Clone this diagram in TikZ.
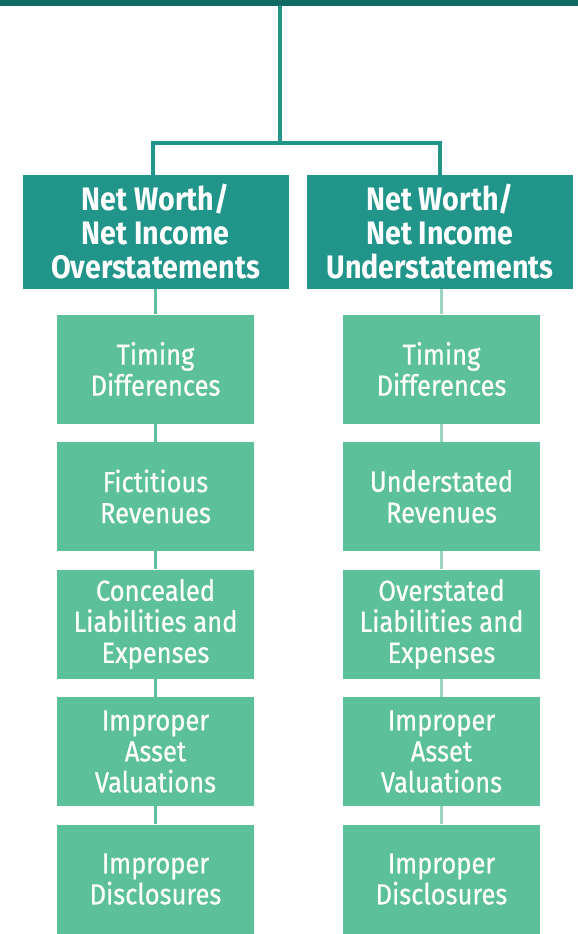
\documentclass[tikz,border=0pt]{standalone}
\usepackage{fontspec}
\setmainfont{Fira Sans}[FakeStretch=0.88]
\newfontfamily\itemfont{Fira Sans}[FakeStretch=0.88,FakeBold=0.6]
\usetikzlibrary{positioning}
\definecolor{barc}{HTML}{0F6B63}
\definecolor{headc}{HTML}{21958A}
\definecolor{itemc}{HTML}{5CC09A}
\definecolor{linkc}{HTML}{9FD5BE}

\begin{document}
\begin{tikzpicture}[x=1pt,y=-1pt,
    headbox/.style={fill=headc,text=white,minimum width=266pt,minimum height=114pt,
      inner sep=0pt,align=center,font=\fontsize{32.5}{34}\selectfont\bfseries},
    itembox/.style={fill=itemc,text=white,minimum width=197pt,minimum height=109pt,
      inner sep=0pt,align=center,font=\itemfont\fontsize{29}{31}\selectfont},
    tie/.style={line width=3.5pt}]
  \useasboundingbox (0,0) rectangle (578,934);
  % top bar and split
  \node[fill=barc,minimum width=578pt,minimum height=6pt,inner sep=0pt,anchor=north west] (top) at (0,0) {};
  \coordinate (split) at (280,143);
  \node[headbox] (hl) at (155.5,232) {Net Worth/\\Net Income\\Overstatements};
  \node[headbox] (hr) at (440,232) {Net Worth/\\Net Income\\Understatements};
  \draw[tie,headc] (top.south -| split) -- (split);
  \draw[tie,headc] ([xshift=-2.5pt]hl.north) |- (split) -| (hr.north);
  % columns
  \foreach \t [count=\i from 0] in {{Timing\\Differences},{Fictitious\\Revenues},
      {Concealed\\Liabilities and\\Expenses},{Improper\\Asset\\Valuations},{Improper\\Disclosures}}
    \node[itembox] (l\i) at (155.5,{369+127.5*\i}) {\t};
  \foreach \t [count=\i from 0] in {{Timing\\Differences},{Understated\\Revenues},
      {Overstated\\Liabilities and\\Expenses},{Improper\\Asset\\Valuations},{Improper\\Disclosures}}
    \node[itembox] (r\i) at (441.5,{369+127.5*\i}) {\t};
  \draw[tie,itemc] (hl.south -| l0) -- (l0);
  \draw[tie,linkc] (hr.south -| r0) -- (r0);
  \foreach \i/\j in {0/1,1/2,2/3,3/4}{
    \draw[tie,itemc] (l\i) -- (l\j);
    \draw[tie,linkc] (r\i) -- (r\j);}
\end{tikzpicture}
\end{document}
